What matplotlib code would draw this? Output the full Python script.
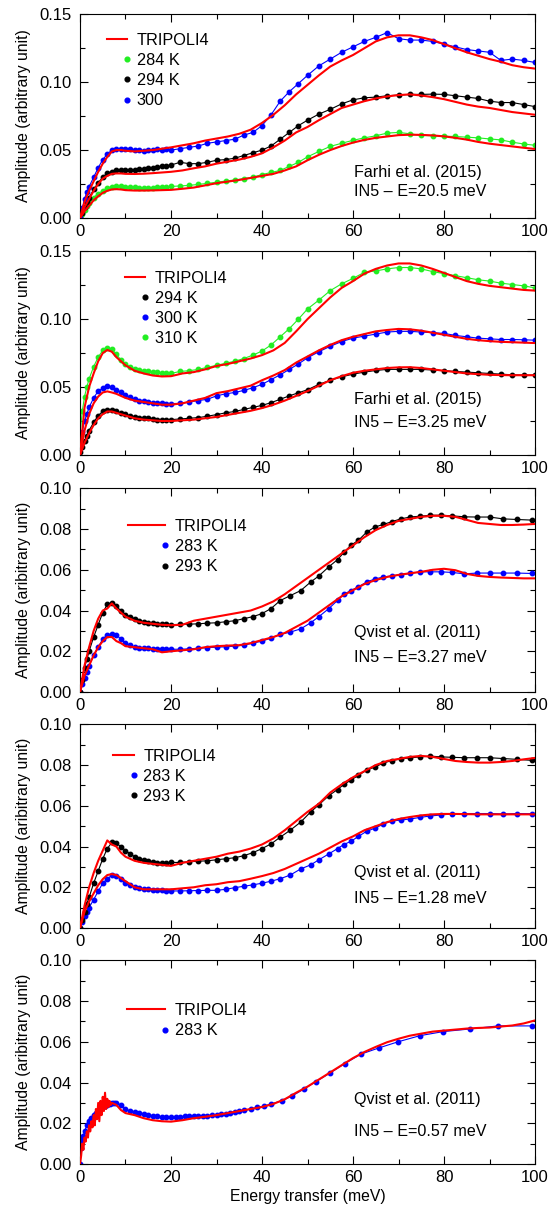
import matplotlib
matplotlib.use("Agg")
import matplotlib.pyplot as plt
from matplotlib.legend_handler import HandlerLine2D
from matplotlib.lines import Line2D
from matplotlib.ticker import FormatStrFormatter, MultipleLocator

plt.rcParams["font.family"] = ["Liberation Sans", "DejaVu Sans"]

RED = "#ff0000"
BLUE = "#0000ff"
GREEN = "#22ee22"
BLACK = "#000000"

# energy grids (meV) of the measured spectra
E_FARHI = [0, 0.5, 1, 1.5, 2, 3, 4, 5, 6, 7, 8, 9, 10, 11, 12, 13, 14, 15, 16, 17, 18, 19, 20,
           22, 24, 26, 28, 30, 32, 34, 36, 38, 40, 42, 44, 46, 48, 50,
           52.5, 55, 57.5, 60, 62.5, 65, 67.5, 70, 72.5, 75, 77.5, 80, 82.5, 85, 87.5, 90, 92.5, 95, 97.5, 100]
E_QVIST = [0, 0.5, 1, 1.5, 2, 3, 4, 5, 6, 7, 8, 9, 10, 11, 12, 13, 14, 15, 16, 17, 18, 19, 20,
           22, 24, 26, 28, 30, 32, 34, 36, 38, 40, 42, 44,
           46.2, 48.5, 50.7, 52.5, 54.7, 56.6, 58, 59.5, 61.2, 63, 64.8, 66.7, 68.5, 70.5, 72.5, 74.7,
           77, 79.4, 81.8, 84.5, 87.2, 90, 93, 96, 99.3]
E_QVIST_057 = [0, 0.25, 0.5, 0.75, 1, 1.5, 2, 2.5, 3, 3.5, 4, 4.5, 5, 5.5, 6, 6.5, 7, 7.5, 8,
               9, 10, 11, 12, 13, 14, 15, 16, 17, 18, 19, 20, 21, 22, 23, 24, 25, 26, 27, 28, 29, 30,
               31, 32, 33, 34, 35, 36, 37.5, 39, 40.5, 42,
               44.3, 46.7, 49.2, 51.9, 54.9, 58.2, 61.7, 65.7, 69.9, 74.7, 79.8, 85.7, 91.9, 99.3]

# energy grids (meV) of the TRIPOLI4 curves
E_MODEL = [0, 1, 2, 3, 4, 5, 6, 7, 8, 9, 10, 12, 14, 16, 18, 20,
           22.5, 25, 27.5, 30, 32.5, 35, 37.5, 40, 42.5, 45, 47.5, 50,
           52.5, 55, 57.5, 60, 62.5, 65, 67.5, 70, 72.5, 75, 77.5, 80, 82.5, 85, 87.5, 90, 92.5, 95, 97.5, 100]
E_MODEL_057 = [0, 0.25, 0.5, 0.75, 1, 1.25, 1.5, 1.75, 2, 2.25, 2.5, 2.75, 3, 3.25, 3.5, 3.75, 4,
               4.25, 4.5, 4.75, 5, 5.25, 5.5, 5.75, 6, 6.25, 6.5, 6.75, 7, 7.5, 8,
               9, 10, 12, 14, 16, 18, 20] + E_MODEL[16:]

# --- Farhi et al. (2015), E = 20.5 meV
FARHI_205_300K = [0.0, 0.007, 0.014, 0.019, 0.023, 0.030, 0.037, 0.043, 0.047, 0.050, 0.051, 0.051, 0.051,
                  0.0505, 0.050, 0.050, 0.0495, 0.050, 0.050, 0.0505, 0.050, 0.0505, 0.050,
                  0.051, 0.052, 0.053, 0.055, 0.056, 0.057, 0.058, 0.061, 0.063, 0.068, 0.076, 0.086, 0.093,
                  0.099, 0.105,
                  0.112, 0.117, 0.122, 0.126, 0.130, 0.133, 0.1365, 0.132, 0.131, 0.131, 0.130, 0.128, 0.126,
                  0.124, 0.123, 0.122, 0.116, 0.117, 0.116, 0.1145]
FARHI_205_294K = [0.0, 0.004, 0.008, 0.012, 0.015, 0.021, 0.026, 0.030, 0.033, 0.034, 0.035, 0.0355, 0.0355,
                  0.035, 0.0355, 0.036, 0.036, 0.0365, 0.037, 0.0375, 0.038, 0.0385, 0.039,
                  0.041, 0.040, 0.040, 0.041, 0.0425, 0.043, 0.044, 0.046, 0.048, 0.050, 0.053, 0.058, 0.063,
                  0.068, 0.072,
                  0.0765, 0.080, 0.084, 0.087, 0.0885, 0.089, 0.090, 0.0905, 0.091, 0.091, 0.0912, 0.091,
                  0.090, 0.089, 0.088, 0.086, 0.085, 0.085, 0.0835, 0.082]
FARHI_205_284K = [0.0, 0.003, 0.006, 0.009, 0.011, 0.015, 0.018, 0.020, 0.022, 0.023, 0.0232, 0.0232, 0.023,
                  0.0228, 0.0225, 0.0222, 0.022, 0.022, 0.0222, 0.0225, 0.0228, 0.023, 0.0232,
                  0.0236, 0.024, 0.0247, 0.0255, 0.0263, 0.0272, 0.028, 0.029, 0.030, 0.032, 0.0335, 0.035,
                  0.038, 0.041, 0.045,
                  0.049, 0.0527, 0.055, 0.0572, 0.059, 0.0605, 0.0625, 0.063, 0.062, 0.0608, 0.0605, 0.0602,
                  0.060, 0.0595, 0.059, 0.0582, 0.0575, 0.0558, 0.0545, 0.0535]
TRIPOLI_205_A = [0.0, 0.012, 0.020, 0.027, 0.034, 0.040, 0.045, 0.049, 0.050, 0.050, 0.0495, 0.049, 0.0495,
                 0.050, 0.051, 0.052,
                 0.0535, 0.055, 0.057, 0.0585, 0.060, 0.062, 0.065, 0.070, 0.076, 0.083, 0.091, 0.098,
                 0.105, 0.1115, 0.116, 0.120, 0.125, 0.130, 0.133, 0.1345, 0.1345, 0.133, 0.131, 0.128, 0.125,
                 0.122, 0.1195, 0.117, 0.115, 0.1125, 0.111, 0.110]
TRIPOLI_205_B = [0.0, 0.008, 0.014, 0.020, 0.025, 0.029, 0.031, 0.0325, 0.0328, 0.0328, 0.0325, 0.0324,
                 0.0326, 0.033, 0.0335, 0.034,
                 0.035, 0.0366, 0.038, 0.040, 0.0415, 0.043, 0.045, 0.0476, 0.052, 0.057, 0.063, 0.067,
                 0.072, 0.0765, 0.081, 0.0835, 0.086, 0.088, 0.0895, 0.0905, 0.091, 0.0902, 0.089, 0.0875,
                 0.0855, 0.0835, 0.082, 0.081, 0.0795, 0.078, 0.077, 0.076]
TRIPOLI_205_C = [0.0, 0.005, 0.009, 0.013, 0.016, 0.0185, 0.020, 0.021, 0.0212, 0.021, 0.0205, 0.0202,
                 0.0202, 0.0203, 0.0205, 0.0207,
                 0.0215, 0.0224, 0.024, 0.0256, 0.0268, 0.028, 0.0295, 0.031, 0.0325, 0.035, 0.038, 0.0425,
                 0.0465, 0.050, 0.053, 0.0555, 0.0575, 0.059, 0.060, 0.061, 0.0613, 0.0612, 0.0608, 0.0601,
                 0.059, 0.0577, 0.056, 0.0547, 0.0537, 0.0527, 0.0517, 0.0508]

# --- Farhi et al. (2015), E = 3.25 meV
FARHI_325_310K = [0.015, 0.032, 0.043, 0.050, 0.056, 0.065, 0.072, 0.077, 0.079, 0.078, 0.074, 0.070, 0.067,
                  0.065, 0.0635, 0.0625, 0.062, 0.0615, 0.061, 0.061, 0.0605, 0.060, 0.060,
                  0.0615, 0.062, 0.063, 0.0645, 0.066, 0.0675, 0.069, 0.071, 0.0735, 0.0765, 0.081, 0.087,
                  0.093, 0.100, 0.1075,
                  0.114, 0.121, 0.126, 0.130, 0.1345, 0.1355, 0.137, 0.138, 0.138, 0.137, 0.135, 0.1335,
                  0.132, 0.1305, 0.129, 0.128, 0.1265, 0.1255, 0.1245, 0.123]
FARHI_325_300K = [0.008, 0.017, 0.025, 0.030, 0.035, 0.042, 0.047, 0.049, 0.0505, 0.050, 0.048, 0.046, 0.044,
                  0.0425, 0.041, 0.040, 0.0395, 0.039, 0.0385, 0.038, 0.038, 0.0378, 0.0378,
                  0.038, 0.039, 0.040, 0.041, 0.0435, 0.045, 0.046, 0.0475, 0.0495, 0.052, 0.0555, 0.059,
                  0.063, 0.067, 0.0715,
                  0.076, 0.080, 0.0835, 0.086, 0.0875, 0.089, 0.0905, 0.091, 0.091, 0.0905, 0.090, 0.0895,
                  0.088, 0.087, 0.086, 0.0855, 0.085, 0.085, 0.0848, 0.0845]
FARHI_325_294K = [0.002, 0.006, 0.010, 0.014, 0.018, 0.024, 0.029, 0.032, 0.0333, 0.0333, 0.032, 0.031, 0.030,
                  0.029, 0.028, 0.0275, 0.027, 0.027, 0.0265, 0.026, 0.026, 0.026, 0.026,
                  0.0265, 0.027, 0.0275, 0.0285, 0.0297, 0.031, 0.032, 0.0335, 0.035, 0.0365, 0.0385, 0.041,
                  0.0435, 0.0458, 0.048,
                  0.052, 0.055, 0.0575, 0.0595, 0.061, 0.0622, 0.063, 0.063, 0.063, 0.063, 0.0625, 0.062,
                  0.0615, 0.061, 0.0605, 0.060, 0.0595, 0.059, 0.0588, 0.0587]
TRIPOLI_325_A = [0.0, 0.035, 0.050, 0.060, 0.069, 0.075, 0.0773, 0.076, 0.072, 0.069, 0.066, 0.062, 0.060,
                 0.0585, 0.0578, 0.058,
                 0.060, 0.061, 0.063, 0.0655, 0.067, 0.069, 0.071, 0.0735, 0.077, 0.0825, 0.091, 0.100,
                 0.108, 0.116, 0.123, 0.128, 0.1335, 0.137, 0.1395, 0.141, 0.141, 0.1395, 0.137, 0.134,
                 0.131, 0.128, 0.126, 0.1245, 0.1235, 0.1225, 0.1215, 0.121]
TRIPOLI_325_B = [0.0, 0.018, 0.030, 0.038, 0.043, 0.046, 0.0468, 0.046, 0.045, 0.0435, 0.042, 0.040, 0.039,
                 0.038, 0.037, 0.037,
                 0.038, 0.040, 0.042, 0.0455, 0.047, 0.049, 0.051, 0.055, 0.0585, 0.0625, 0.068, 0.0725,
                 0.077, 0.081, 0.0845, 0.087, 0.089, 0.091, 0.092, 0.0928, 0.0925, 0.0915, 0.090, 0.0885,
                 0.087, 0.0855, 0.0845, 0.0838, 0.0833, 0.083, 0.0827, 0.0824]
TRIPOLI_325_C = [0.0, 0.009, 0.016, 0.022, 0.027, 0.030, 0.032, 0.032, 0.031, 0.030, 0.029, 0.027, 0.026,
                 0.0255, 0.025, 0.025,
                 0.0255, 0.026, 0.027, 0.028, 0.0295, 0.031, 0.0325, 0.0345, 0.037, 0.040, 0.0435, 0.047,
                 0.051, 0.055, 0.058, 0.0605, 0.062, 0.063, 0.064, 0.0645, 0.0646, 0.064, 0.063, 0.062,
                 0.061, 0.060, 0.0595, 0.059, 0.0588, 0.0587, 0.0587, 0.0587]

# --- Qvist et al. (2011), E = 3.27 meV
QVIST_327_293K = [0.0, 0.006, 0.012, 0.016, 0.020, 0.027, 0.033, 0.039, 0.043, 0.0435, 0.042, 0.040, 0.038,
                  0.037, 0.036, 0.035, 0.0345, 0.034, 0.0338, 0.0335, 0.0335, 0.0333, 0.0331,
                  0.0332, 0.0333, 0.0335, 0.0338, 0.034, 0.0345, 0.035, 0.036, 0.037, 0.0385, 0.041, 0.0449,
                  0.0473, 0.0498, 0.054, 0.057, 0.0615, 0.065, 0.0685, 0.072, 0.0745, 0.0785, 0.081, 0.0823,
                  0.0836, 0.085, 0.0859, 0.0863, 0.0868, 0.0868, 0.0865, 0.086, 0.0859, 0.0859, 0.085, 0.0847,
                  0.0844]
QVIST_327_283K = [0.0, 0.004, 0.007, 0.010, 0.013, 0.018, 0.022, 0.026, 0.028, 0.0285, 0.028, 0.026, 0.024,
                  0.023, 0.022, 0.0218, 0.0215, 0.0215, 0.0213, 0.021, 0.021, 0.021, 0.021,
                  0.021, 0.0212, 0.0215, 0.0218, 0.022, 0.0222, 0.0225, 0.023, 0.024, 0.025, 0.0265, 0.0283,
                  0.0294, 0.031, 0.034, 0.037, 0.041, 0.045, 0.048, 0.0498, 0.0517, 0.054, 0.0555, 0.0565,
                  0.057, 0.0576, 0.0582, 0.059, 0.059, 0.059, 0.0587, 0.058, 0.0584, 0.0584, 0.0584, 0.0584,
                  0.0582]
TRIPOLI_327_A = [0.0, 0.013, 0.022, 0.030, 0.036, 0.040, 0.041, 0.0435, 0.041, 0.039, 0.037, 0.035, 0.034,
                 0.0335, 0.033, 0.0328,
                 0.033, 0.035, 0.036, 0.037, 0.038, 0.039, 0.040, 0.042, 0.0445, 0.048, 0.052, 0.056,
                 0.060, 0.064, 0.068, 0.072, 0.076, 0.0795, 0.082, 0.084, 0.085, 0.086, 0.0865, 0.0865,
                 0.086, 0.0845, 0.083, 0.0825, 0.082, 0.082, 0.0822, 0.0825]
TRIPOLI_327_B = [0.0, 0.008, 0.013, 0.018, 0.022, 0.025, 0.027, 0.027, 0.025, 0.024, 0.0225, 0.022, 0.0215,
                 0.021, 0.0195, 0.020,
                 0.0205, 0.021, 0.022, 0.0225, 0.0228, 0.023, 0.024, 0.0255, 0.027, 0.029, 0.032, 0.035,
                 0.039, 0.043, 0.047, 0.050, 0.053, 0.055, 0.0565, 0.0575, 0.0583, 0.059, 0.060, 0.0605,
                 0.0598, 0.058, 0.057, 0.0565, 0.0562, 0.056, 0.0558, 0.0558]

# --- Qvist et al. (2011), E = 1.28 meV
QVIST_128_293K = [0.0, 0.004, 0.008, 0.012, 0.015, 0.022, 0.028, 0.034, 0.039, 0.042, 0.0415, 0.040, 0.038,
                  0.0365, 0.035, 0.034, 0.0335, 0.033, 0.0325, 0.032, 0.032, 0.032, 0.0322,
                  0.0322, 0.0325, 0.0328, 0.033, 0.0335, 0.034, 0.0345, 0.0355, 0.037, 0.039, 0.0413, 0.0446,
                  0.048, 0.052, 0.057, 0.0605, 0.065, 0.068, 0.0705, 0.0725, 0.075, 0.0775, 0.079, 0.081,
                  0.0822, 0.083, 0.0835, 0.084, 0.0844, 0.084, 0.0838, 0.0836, 0.0836, 0.0836, 0.0832, 0.0828,
                  0.0823]
QVIST_128_283K = [0.0, 0.003, 0.006, 0.008, 0.010, 0.014, 0.018, 0.022, 0.024, 0.026, 0.0255, 0.024, 0.022,
                  0.021, 0.020, 0.0195, 0.019, 0.019, 0.0188, 0.0185, 0.0185, 0.0183, 0.0182,
                  0.0182, 0.0183, 0.0184, 0.0185, 0.0185, 0.019, 0.0198, 0.0205, 0.0212, 0.022, 0.023, 0.0242,
                  0.026, 0.029, 0.031, 0.0335, 0.0364, 0.039, 0.041, 0.0425, 0.045, 0.0475, 0.049, 0.051,
                  0.0525, 0.053, 0.0535, 0.0543, 0.055, 0.0555, 0.056, 0.0562, 0.0562, 0.0562, 0.056, 0.0562,
                  0.0561]
TRIPOLI_128_A = [0.0, 0.011, 0.020, 0.027, 0.033, 0.038, 0.043, 0.041, 0.040, 0.037, 0.035, 0.033, 0.032,
                 0.0315, 0.031, 0.0305,
                 0.032, 0.033, 0.034, 0.035, 0.0365, 0.0375, 0.039, 0.041, 0.044, 0.048, 0.0525, 0.057,
                 0.061, 0.0665, 0.0705, 0.074, 0.077, 0.080, 0.082, 0.083, 0.084, 0.0845, 0.084, 0.083,
                 0.082, 0.0815, 0.0812, 0.0812, 0.0815, 0.082, 0.0828, 0.0835]
TRIPOLI_128_B = [0.0, 0.008, 0.013, 0.017, 0.021, 0.024, 0.026, 0.0265, 0.026, 0.0245, 0.023, 0.020, 0.019,
                 0.019, 0.019, 0.019,
                 0.0195, 0.020, 0.021, 0.0215, 0.0225, 0.023, 0.0242, 0.0255, 0.027, 0.029, 0.0315, 0.034,
                 0.0365, 0.0395, 0.0425, 0.045, 0.048, 0.050, 0.052, 0.0535, 0.0545, 0.0553, 0.0558, 0.056,
                 0.056, 0.0559, 0.0558, 0.0558, 0.0558, 0.0558, 0.0558, 0.0558]

# --- Qvist et al. (2011), E = 0.57 meV
QVIST_057_283K = [0.0, 0.008, 0.012, 0.014, 0.016, 0.019, 0.021, 0.0225, 0.024, 0.025, 0.026, 0.027, 0.028,
                  0.0285, 0.029, 0.0295, 0.030, 0.030, 0.0298,
                  0.029, 0.027, 0.026, 0.0255, 0.025, 0.0245, 0.024, 0.0238, 0.0235, 0.023, 0.0232, 0.0232,
                  0.0233, 0.0233, 0.0234, 0.0235, 0.0235, 0.0236, 0.0237, 0.0238, 0.024, 0.0242, 0.0245,
                  0.0248, 0.025, 0.0255, 0.026, 0.0263, 0.027, 0.0278, 0.0285, 0.0295,
                  0.031, 0.0335, 0.0368, 0.0405, 0.0446, 0.0493, 0.0539, 0.057, 0.060, 0.063, 0.065, 0.0663,
                  0.0678, 0.0678]
TRIPOLI_057 = [0.0, 0.004, 0.010, 0.007, 0.013, 0.011, 0.016, 0.013, 0.019, 0.016, 0.021, 0.018, 0.024,
               0.019, 0.027, 0.022, 0.030, 0.021, 0.031, 0.024, 0.033, 0.026, 0.035, 0.027, 0.032, 0.028,
               0.031, 0.029, 0.030, 0.0295, 0.029,
               0.0265, 0.025, 0.024, 0.0225, 0.0215, 0.021, 0.0208,
               0.0215, 0.0225, 0.0232, 0.024, 0.025, 0.026, 0.027, 0.028, 0.0295, 0.0318, 0.035, 0.038,
               0.0415, 0.045, 0.0485, 0.052, 0.055, 0.0575, 0.0598, 0.0615, 0.063, 0.064, 0.065, 0.0655,
               0.066, 0.0665, 0.0668, 0.067, 0.0675, 0.068, 0.069, 0.0705]


class RightDot(HandlerLine2D):
    # put the legend dot at the right end of the handle, next to the label
    def create_artists(self, *args, **kwargs):
        artists = super().create_artists(*args, **kwargs)
        for art in artists:
            art.set_markevery([2])
        return artists


PANELS = [
    dict(ytop=0.15, ymajor=0.05, yminor=0.025, ylabel="Amplitude (arbitrary unit)",
         model=(E_MODEL, [TRIPOLI_205_A, TRIPOLI_205_B, TRIPOLI_205_C]),
         data=[(E_FARHI, FARHI_205_284K, GREEN, "284 K"),
               (E_FARHI, FARHI_205_294K, BLACK, "294 K"),
               (E_FARHI, FARHI_205_300K, BLUE, "300")],
         leg=(0.059, 0.91), hlen=1.25,
         note=("Farhi et al. (2015)", "IN5 \u2013 E=20.5 meV"), note_y=(0.225, 0.128)),
    dict(ytop=0.15, ymajor=0.05, yminor=0.025, ylabel="Amplitude (arbitrary unit)",
         model=(E_MODEL, [TRIPOLI_325_A, TRIPOLI_325_B, TRIPOLI_325_C]),
         data=[(E_FARHI, FARHI_325_294K, BLACK, "294 K"),
               (E_FARHI, FARHI_325_300K, BLUE, "300 K"),
               (E_FARHI, FARHI_325_310K, GREEN, "310 K")],
         leg=(0.099, 0.905), hlen=1.25,
         note=("Farhi et al. (2015)", "IN5 \u2013 E=3.25 meV"), note_y=(0.27, 0.158)),
    dict(ytop=0.10, ymajor=0.02, yminor=0.01, ylabel="Amplitude (aribitrary unit)",
         model=(E_MODEL, [TRIPOLI_327_A, TRIPOLI_327_B]),
         data=[(E_QVIST, QVIST_327_283K, BLUE, "283 K"),
               (E_QVIST, QVIST_327_293K, BLACK, "293 K")],
         leg=(0.105, 0.85), hlen=2.3,
         note=("Qvist et al. (2011)", "IN5 \u2013 E=3.27 meV"), note_y=(0.29, 0.17)),
    dict(ytop=0.10, ymajor=0.02, yminor=0.01, ylabel="Amplitude (aribitrary unit)",
         model=(E_MODEL, [TRIPOLI_128_A, TRIPOLI_128_B]),
         data=[(E_QVIST, QVIST_128_283K, BLUE, "283 K"),
               (E_QVIST, QVIST_128_293K, BLACK, "293 K")],
         leg=(0.073, 0.88), hlen=1.25,
         note=("Qvist et al. (2011)", "IN5 \u2013 E=1.28 meV"), note_y=(0.272, 0.147)),
    dict(ytop=0.10, ymajor=0.02, yminor=0.01, ylabel="Amplitude (aribitrary unit)",
         model=(E_MODEL_057, [TRIPOLI_057]),
         data=[(E_QVIST_057, QVIST_057_283K, BLUE, "283 K")],
         leg=(0.103, 0.79), hlen=2.35,
         note=("Qvist et al. (2011)", "IN5 \u2013 E=0.57 meV"), note_y=(0.315, 0.158)),
]

BOTTOMS = [0.8197, 0.6237, 0.4276, 0.2324, 0.0372]
LEFT, WIDTH, HEIGHT = 0.1431, 0.814, 0.1685


def draw_panel(ax, p):
    for x, y, color, _ in p["data"]:
        ax.plot(x, y, "-", color=color, lw=0.8, marker="o", ms=3.2, mec=color, mfc=color, zorder=2)
    ex, curves = p["model"]
    for y in curves:
        ax.plot(ex, y, "-", color=RED, lw=1.5, zorder=3)

    ax.set_xlim(0, 100)
    ax.set_ylim(0, p["ytop"])
    ax.xaxis.set_major_locator(MultipleLocator(20))
    ax.xaxis.set_minor_locator(MultipleLocator(10))
    ax.yaxis.set_major_locator(MultipleLocator(p["ymajor"]))
    ax.yaxis.set_minor_locator(MultipleLocator(p["yminor"]))
    ax.yaxis.set_major_formatter(FormatStrFormatter("%.2f"))
    ax.tick_params(which="both", direction="in", top=True, right=True, width=0.8, labelsize=12)
    ax.tick_params(which="major", length=6)
    ax.tick_params(which="minor", length=3.5)
    ax.tick_params(axis="x", pad=4)
    ax.tick_params(axis="y", pad=6)
    for s in ax.spines.values():
        s.set_linewidth(0.8)
    ax.set_ylabel(p["ylabel"], fontsize=11.3, labelpad=6)

    handles = [Line2D([], [], color=RED, lw=1.5)]
    labels = ["TRIPOLI4"]
    for _, _, color, lab in p["data"]:
        handles.append(Line2D([], [], ls="none", marker="o", ms=3.4, color=color))
        labels.append(lab)
    ax.legend(handles, labels, loc="upper left", bbox_to_anchor=p["leg"], frameon=False,
              fontsize=11.7, handlelength=p["hlen"], handletextpad=0.6, labelspacing=0.32,
              borderpad=0, borderaxespad=0, numpoints=1,
              handler_map={h: RightDot(numpoints=1) for h in handles[1:]})

    line1, line2 = p["note"]
    ax.text(0.602, p["note_y"][0], line1, transform=ax.transAxes, fontsize=11.6, va="center")
    ax.text(0.602, p["note_y"][1], line2, transform=ax.transAxes, fontsize=11.6, va="center")


def main():
    fig = plt.figure(figsize=(5.59, 12.09), dpi=100)
    for p, b in zip(PANELS, BOTTOMS):
        ax = fig.add_axes([LEFT, b, WIDTH, HEIGHT])
        draw_panel(ax, p)
    ax.set_xlabel("Energy transfer (meV)", fontsize=11.3, labelpad=3)
    fig.savefig("out.png", dpi=100)


if __name__ == "__main__":
    main()
